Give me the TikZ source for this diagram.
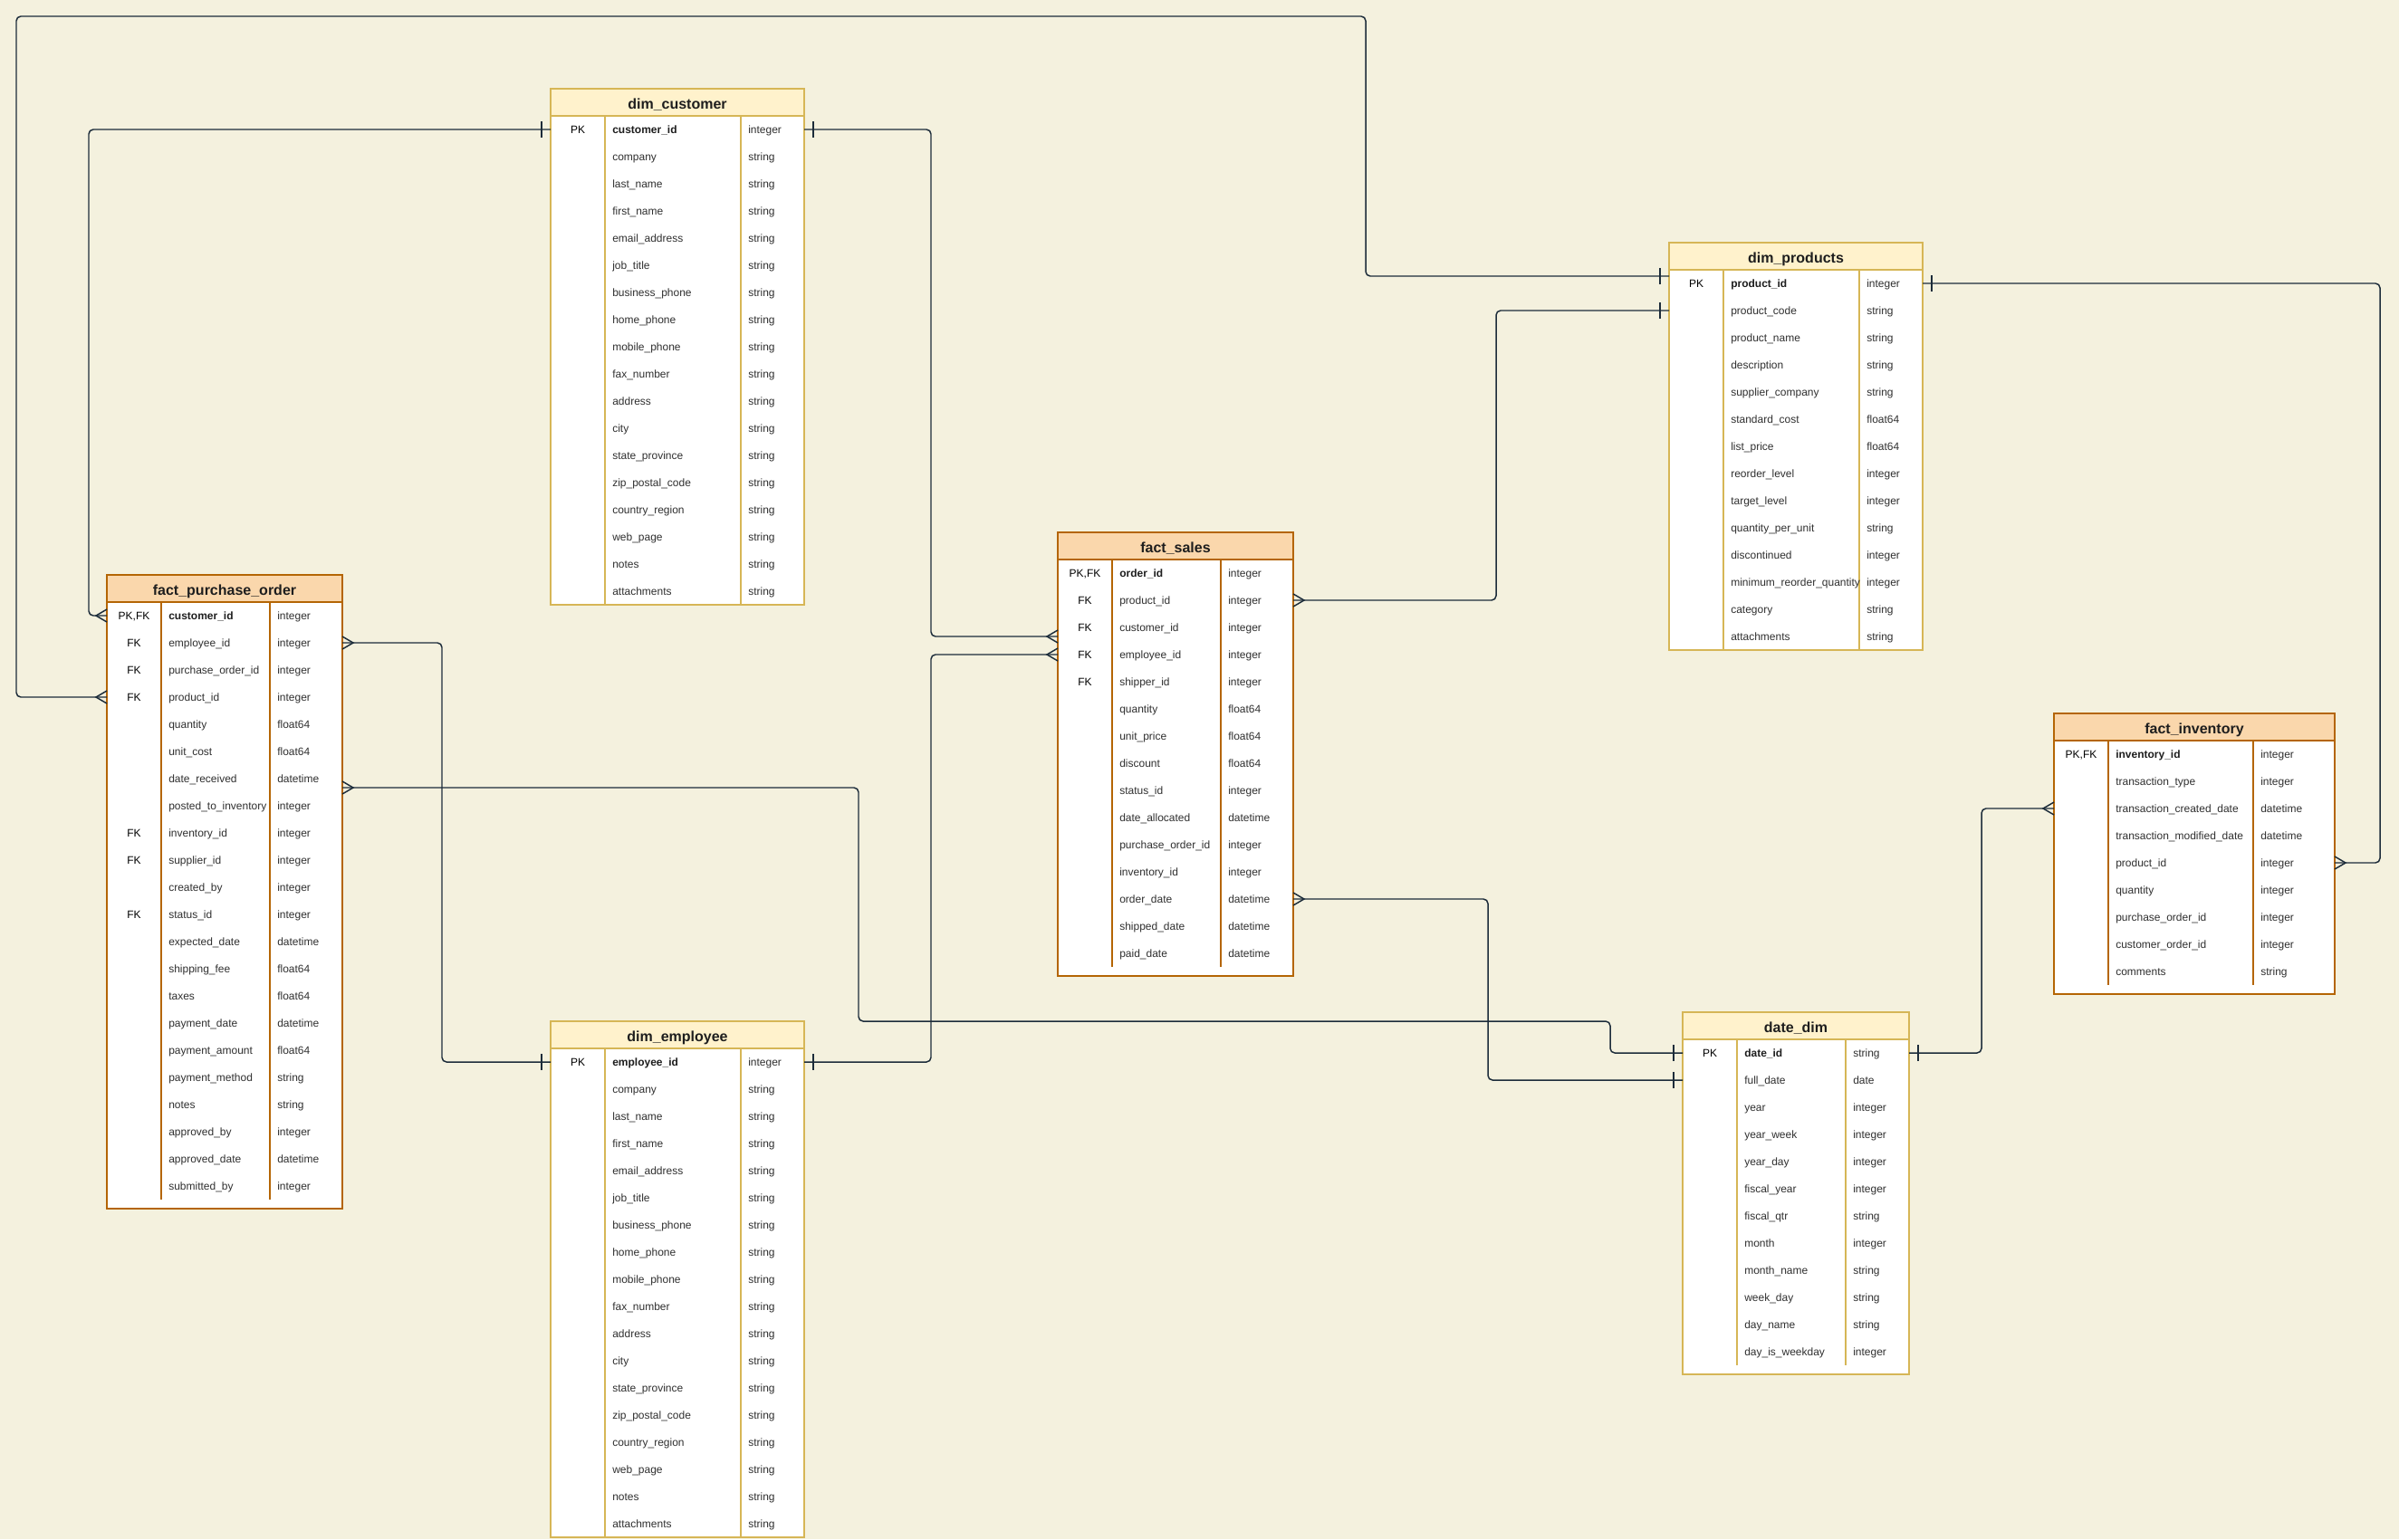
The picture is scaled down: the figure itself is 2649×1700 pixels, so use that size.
\documentclass[tikz,border=0pt]{standalone}
\usepackage{fontspec}
\setmainfont{Liberation Sans}
\usetikzlibrary{calc}
\definecolor{bg}{RGB}{244,241,222}
\definecolor{dimfill}{RGB}{255,242,204}
\definecolor{dimline}{RGB}{214,182,86}
\definecolor{factfill}{RGB}{250,215,172}
\definecolor{factline}{RGB}{180,101,4}
\definecolor{linec}{RGB}{28,44,58}
\definecolor{txt}{RGB}{30,30,30}
\definecolor{celltext}{RGB}{48,48,48}
\tikzset{
  conn/.style={draw=linec, line width=1.1pt, rounded corners=3.75pt},
  erm/.style={draw=linec, line width=1.1pt, sharp corners},
  tabframe/.style={inner sep=0pt, outer sep=0pt, anchor=north west, fill=white, line width=0.9pt},
  rowbox/.style={inner sep=0pt, outer sep=0pt, anchor=north west, minimum height=22.5pt},
  titletxt/.style={inner sep=0pt, anchor=base, text=txt, font=\bfseries\fontsize{12pt}{14pt}\selectfont},
  keytxt/.style={inner sep=0pt, anchor=base, text=black, font=\fontsize{9pt}{11pt}\selectfont},
  celltxt/.style={inner sep=0pt, anchor=base west, text=celltext, font=\fontsize{9pt}{11pt}\selectfont},
}
% #1 id, #2 x, #3 y, #4 key w, #5 name w, #6 type w, #7 bottom pad, #8 kind, #9 title
\newcommand\ertable[9]{%
  \foreach [count=\i] \ka/\na/\ta in \rowlist {\xdef\nrows{\i}}%
  \pgfmathsetmacro\W{#4+#5+#6}%
  \pgfmathsetmacro\H{30+30*\nrows+#7}%
  \node[tabframe, draw=#8line, minimum width=\W*0.75pt, minimum height=\H*0.75pt] (#1) at (#2,#3) {};
  \node[tabframe, draw=#8line, fill=#8fill, minimum width=\W*0.75pt, minimum height=22.5pt] (#1-head) at (#2,#3) {};
  \node[titletxt] (#1-title) at (#2+\W/2, #3+22.3) {#9};
  \draw[draw=#8line, line width=0.9pt] (#2+#4,#3+30) -- ++(0,30*\nrows) (#2+#4+#5,#3+30) -- ++(0,30*\nrows);
  \foreach [count=\i] \ka/\na/\ta in \rowlist {
    \node[rowbox, minimum width=\W*0.75pt] (#1-\i) at (#2,#3+30*\i) {};
    \node[keytxt] (#1-k\i) at (#2+#4/2, #3+30*\i+19.8) {\ka};
    \node[celltxt] (#1-n\i) at (#2+#4+8, #3+30*\i+19.8) {\ifnum\i=1 \bfseries\color{txt}\fi\na};
    \node[celltxt] (#1-t\i) at (#2+#4+#5+8, #3+30*\i+19.8) {\ta};
  }
}
\newcommand\manymark[2]{\draw[erm, shift={(#1)}, rotate=#2] (0,-7) -- (12,0) -- (0,7);}
\newcommand\onemark[2]{\draw[erm, shift={(#1)}, rotate=#2] (10,-9) -- (10,9);}
\begin{document}
\catcode`\_=12
\begin{tikzpicture}[x=0.75pt, y=-0.75pt]
\useasboundingbox (0,0) rectangle (2649,1700);
\fill[bg] (0,0) rectangle (2649,1700);

\def\rowlist{PK/customer_id/integer, /company/string, /last_name/string, /first_name/string, /email_address/string, /job_title/string, /business_phone/string, /home_phone/string, /mobile_phone/string, /fax_number/string, /address/string, /city/string, /state_province/string, /zip_postal_code/string, /country_region/string, /web_page/string, /notes/string, /attachments/string}
\ertable{cust}{608}{98}{60}{150}{70}{0}{dim}{dim_customer}

\def\rowlist{PK/employee_id/integer, /company/string, /last_name/string, /first_name/string, /email_address/string, /job_title/string, /business_phone/string, /home_phone/string, /mobile_phone/string, /fax_number/string, /address/string, /city/string, /state_province/string, /zip_postal_code/string, /country_region/string, /web_page/string, /notes/string, /attachments/string}
\ertable{emp}{608}{1128}{60}{150}{70}{0}{dim}{dim_employee}

\def\rowlist{{PK,FK}/customer_id/integer, FK/employee_id/integer, FK/purchase_order_id/integer, FK/product_id/integer, /quantity/float64, /unit_cost/float64, /date_received/datetime, /posted_to_inventory/integer, FK/inventory_id/integer, FK/supplier_id/integer, /created_by/integer, FK/status_id/integer, /expected_date/datetime, /shipping_fee/float64, /taxes/float64, /payment_date/datetime, /payment_amount/float64, /payment_method/string, /notes/string, /approved_by/integer, /approved_date/datetime, /submitted_by/integer}
\ertable{fpo}{118}{635}{60}{120}{80}{10}{fact}{fact_purchase_order}

\def\rowlist{{PK,FK}/order_id/integer, FK/product_id/integer, FK/customer_id/integer, FK/employee_id/integer, FK/shipper_id/integer, /quantity/float64, /unit_price/float64, /discount/float64, /status_id/integer, /date_allocated/datetime, /purchase_order_id/integer, /inventory_id/integer, /order_date/datetime, /shipped_date/datetime, /paid_date/datetime}
\ertable{sales}{1168}{588}{60}{120}{80}{10}{fact}{fact_sales}

\def\rowlist{PK/product_id/integer, /product_code/string, /product_name/string, /description/string, /supplier_company/string, /standard_cost/float64, /list_price/float64, /reorder_level/integer, /target_level/integer, /quantity_per_unit/string, /discontinued/integer, /minimum_reorder_quantity/integer, /category/string, /attachments/string}
\ertable{prod}{1843}{268}{60}{150}{70}{0}{dim}{dim_products}

\def\rowlist{{PK,FK}/inventory_id/integer, /transaction_type/integer, /transaction_created_date/datetime, /transaction_modified_date/datetime, /product_id/integer, /quantity/integer, /purchase_order_id/integer, /customer_order_id/integer, /comments/string}
\ertable{inv}{2268}{788}{60}{160}{90}{10}{fact}{fact_inventory}

\def\rowlist{PK/date_id/string, /full_date/date, /year/integer, /year_week/integer, /year_day/integer, /fiscal_year/integer, /fiscal_qtr/string, /month/integer, /month_name/string, /week_day/string, /day_name/string, /day_is_weekday/integer}
\ertable{date}{1858}{1118}{60}{120}{70}{10}{dim}{date_dim}

% offset ports
\coordinate (fpoR7) at ($(fpo-7.east)+(0,10)$);
\coordinate (salesL3) at ($(sales-3.west)+(0,10)$);
\coordinate (prodL1) at ($(prod-1.west)+(0,-8)$);

% connectors
\draw[conn] (fpo-4.west) -| (18,18) -| (1508,305) -- (prodL1);
\draw[conn] (cust-1.west) -| (98,680) -- (fpo-1.west);
\draw[conn] (cust-1.east) -| (1028,703) -- (salesL3);
\draw[conn] (emp-1.east) -| (1028,723) -- (sales-4.west);
\draw[conn] (fpo-2.east) -| (488,1173) -- (emp-1.west);
\draw[conn] (fpoR7) -| (948,1128) -| (1778,1163) -- (date-1.west);
\draw[conn] (sales-13.east) -| (1643,1193) -- (date-2.west);
\draw[conn] (sales-2.east) -| (1652,343) -- (prod-2.west);
\draw[conn] (prod-1.east) -| (2628,953) -- (inv-5.east);
\draw[conn] (date-1.east) -| (2188,893) -- (inv-3.west);

% many ends
\manymark{fpo-4.west}{180}
\manymark{fpo-1.west}{180}
\manymark{salesL3}{180}
\manymark{sales-4.west}{180}
\manymark{fpo-2.east}{0}
\manymark{fpoR7}{0}
\manymark{sales-13.east}{0}
\manymark{sales-2.east}{0}
\manymark{inv-5.east}{0}
\manymark{inv-3.west}{180}
% one ends
\onemark{prodL1}{180}
\onemark{cust-1.west}{180}
\onemark{cust-1.east}{0}
\onemark{emp-1.east}{0}
\onemark{emp-1.west}{180}
\onemark{date-1.west}{180}
\onemark{date-2.west}{180}
\onemark{prod-2.west}{180}
\onemark{prod-1.east}{0}
\onemark{date-1.east}{0}
\end{tikzpicture}
\end{document}
